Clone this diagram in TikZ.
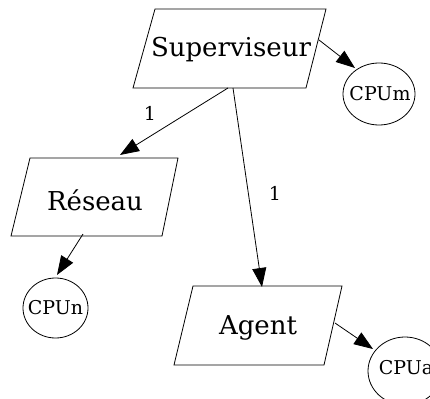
\documentclass[tikz,border=0pt]{standalone}
\usepackage{fontspec}
\setmainfont{DejaVu Serif}
\usetikzlibrary{arrows.meta}
\begin{document}
\begin{tikzpicture}[x=1pt,y=-1pt,line width=0.8pt,
  para/.style={draw,line join=miter},
  bigtext/.style={font=\fontsize{26}{30}\selectfont,inner sep=0pt},
  cpu/.style={font=\fontsize{19}{22}\selectfont,inner sep=0pt},
  lbl/.style={font=\fontsize{19}{22}\selectfont,inner sep=0pt},
  edge/.style={-{Triangle[length=19pt,width=14pt]}}]
\useasboundingbox (0,0) rectangle (430,398);
% parallelograms
\draw[para] (155,9) -- (326,9) -- (306,88) -- (133,88) -- cycle;
\node[bigtext] (sup) at (231,50) {Superviseur};
\draw[para] (30,158) -- (178,158) -- (162,236) -- (11,236) -- cycle;
\node[bigtext] (res) at (95,200) {Réseau};
\draw[para] (193,286) -- (342,286) -- (324,365) -- (174,365) -- cycle;
\node[bigtext] (agent) at (258,328) {Agent};
% ellipses
\node[cpu] (cpum) at (380,94) {CPUm};
\draw (379,94) ellipse [x radius=36, y radius=31];
\node[cpu] (cpun) at (55.5,308) {CPUn};
\draw (cpun.center) ellipse [x radius=32.5, y radius=30];
\node[cpu] (cpua) at (406,368) {CPUa};
\draw (405,371) ellipse [x radius=37, y radius=34];
% connector end points
\coordinate (supE) at (319,40);
\coordinate (cpumT) at (355,68);
\coordinate (supS1) at (228,88);
\coordinate (resT) at (120,155);
\coordinate (supS2) at (233,88);
\coordinate (agentT) at (262,287);
\coordinate (resS) at (83,234);
\coordinate (cpunT) at (57,275);
\coordinate (agentE) at (335,323);
\coordinate (cpuaT) at (373,349);
% connectors
\draw[edge] (supE) -- (cpumT);
\draw[edge] (supS1) -- (resT);
\draw[edge] (supS2) -- (agentT);
\draw[edge] (resS) -- (cpunT);
\draw[edge] (agentE) -- (cpuaT);
% labels
\node[lbl] (l1) at (150,113) {1};
\node[lbl] (l2) at (275,193) {1};
\end{tikzpicture}
\end{document}
